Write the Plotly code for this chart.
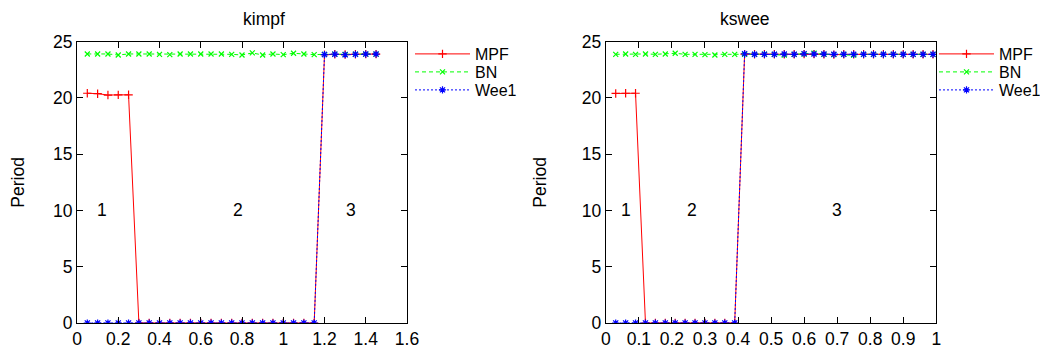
"""
kimpf / kswee の周期プロット (gnuplot風)
"""

import plotly.graph_objects as go
from plotly.subplots import make_subplots

# kimpf パネル
x_kimpf = [0.05, 0.10, 0.15, 0.20, 0.25, 0.30, 0.35, 0.40, 0.45, 0.50,
           0.55, 0.60, 0.65, 0.70, 0.75, 0.80, 0.85, 0.90, 0.95, 1.00,
           1.05, 1.10, 1.15, 1.20, 1.25, 1.30, 1.35, 1.40, 1.45]
mpf_kimpf = [20.42, 20.38, 20.26, 20.27, 20.28, 0, 0, 0, 0, 0,
             0, 0, 0, 0, 0, 0, 0, 0, 0, 0,
             0, 0, 0, 23.85, 23.88, 23.86, 23.88, 23.9, 23.9]
bn_kimpf = [23.91, 23.91, 23.91, 23.82, 23.91, 23.91, 23.91, 23.88, 23.85, 23.91,
            23.91, 23.91, 23.91, 23.91, 23.88, 23.82, 24.0, 23.82, 23.91, 23.85,
            23.97, 23.91, 23.85, 23.88, 23.9, 23.88, 23.9, 23.9, 23.9]
wee1_kimpf = [0, 0, 0, 0, 0, 0, 0, 0, 0, 0,
              0, 0, 0, 0, 0, 0, 0, 0, 0, 0,
              0, 0, 0, 23.86, 23.89, 23.84, 23.88, 23.9, 23.9]

# kswee パネル
x_kswee = [0.03, 0.06, 0.09, 0.12, 0.15, 0.18, 0.21, 0.24, 0.27, 0.30, 0.33,
           0.36, 0.39, 0.42, 0.45, 0.48, 0.51, 0.54, 0.57, 0.60, 0.63, 0.66,
           0.69, 0.72, 0.75, 0.78, 0.81, 0.84, 0.87, 0.90, 0.93, 0.96, 0.99]
mpf_kswee = [20.4, 20.42, 20.42, 0, 0, 0, 0, 0, 0, 0, 0,
             0, 0, 23.9, 23.88, 23.88, 23.88, 23.88, 23.88, 23.9, 23.9, 23.88,
             23.85, 23.88, 23.88, 23.88, 23.88, 23.88, 23.88, 23.88, 23.88, 23.88, 23.88]
bn_kswee = [23.88, 23.91, 23.88, 23.91, 23.88, 23.91, 23.97, 23.88, 23.88, 23.85, 23.82,
            23.88, 23.88, 23.88, 23.88, 23.9, 23.88, 23.8, 23.88, 23.9, 23.98, 23.88,
            23.85, 23.88, 23.8, 23.88, 23.88, 23.88, 23.88, 23.88, 23.88, 23.88, 23.88]
wee1_kswee = [0, 0, 0, 0, 0, 0, 0, 0, 0, 0, 0,
              0, 0, 23.93, 23.88, 23.88, 23.88, 23.9, 23.88, 23.93, 23.9, 23.9,
              23.88, 23.88, 23.88, 23.88, 23.88, 23.88, 23.88, 23.88, 23.88, 23.88, 23.88]

# 領域ラベル (x位置, y=10)
region_labels = ["1", "2", "3"]
region_x_kimpf = [0.12, 0.78, 1.33]
region_x_kswee = [0.06, 0.26, 0.70]

panel_titles = ["kimpf", "kswee"]
kimpf_ticks = [0, 0.2, 0.4, 0.6, 0.8, 1, 1.2, 1.4, 1.6]
kimpf_ticktext = ["0", "0.2", "0.4", "0.6", "0.8", "1", "1.2", "1.4", "1.6"]
kswee_ticks = [0, 0.1, 0.2, 0.3, 0.4, 0.5, 0.6, 0.7, 0.8, 0.9, 1]
kswee_ticktext = ["0", "0.1", "0.2", "0.3", "0.4", "0.5", "0.6", "0.7", "0.8", "0.9", "1"]
y_ticks = [0, 5, 10, 15, 20, 25]

# ページの body 余白 (8px) を差し引いた図のサイズ
PAGE_PAD = 8
W, H = 1048 - PAGE_PAD, 354 - PAGE_PAD
FONT = "Liberation Sans, Arial, sans-serif"
FS = 17.5


def fx(px):
    """画面上のx座標(px) → 図の比率"""
    return (px - PAGE_PAD) / W


def fy(px):
    """画面上のy座標(px) → 図の比率"""
    return 1 - (px - PAGE_PAD) / H


# スタイル (gnuplot の既定色)
styles = {
    "MPF": {"color": "#ff0000", "dash": "solid", "symbol": "cross-thin", "size": 6},
    "BN": {"color": "#00ff00", "dash": "4px,3px", "symbol": "x-thin", "size": 5},
    "Wee1": {"color": "#0000ff", "dash": "2px,2px", "symbol": "asterisk", "size": 6},
}
legend_rows = {"MPF": 54, "BN": 72, "Wee1": 90}

fig = make_subplots(rows=1, cols=2)

panels = [
    (1, 0, x_kimpf, {"MPF": mpf_kimpf, "BN": bn_kimpf, "Wee1": wee1_kimpf}),
    (2, 3, x_kswee, {"MPF": mpf_kswee, "BN": bn_kswee, "Wee1": wee1_kswee}),
]

for col, offset, xs, series in panels:
    for i, (name, ys) in enumerate(series.items()):
        st = styles[name]
        n = offset + i + 1
        fig.add_trace(
            go.Scatter(
                x=xs,
                y=ys,
                mode="lines+markers",
                name=name,
                legend="legend" if n == 1 else f"legend{n}",
                line={"color": st["color"], "width": 1, "dash": st["dash"]},
                marker={
                    "symbol": st["symbol"],
                    "size": st["size"],
                    "color": st["color"],
                    "line": {"color": st["color"], "width": 1.2},
                },
            ),
            row=1,
            col=col,
        )

# 軸の設定
axis_common = {
    "showline": True,
    "linecolor": "black",
    "linewidth": 1,
    "mirror": "ticks",
    "ticks": "inside",
    "ticklen": 6,
    "tickcolor": "black",
    "showgrid": False,
    "zeroline": False,
    "automargin": False,
    "tickfont": {"size": FS, "color": "black", "family": FONT},
}

x0_l, x1_l = fx(77), fx(407)
x0_r, x1_r = fx(605.8), fx(936.3)
y0, y1 = fy(323), fy(41.7)

fig.update_xaxes(axis_common)
fig.update_yaxes(axis_common)
fig.update_xaxes(domain=[x0_l, x1_l], range=[0, 1.6], tickvals=kimpf_ticks,
                 ticktext=kimpf_ticktext, row=1, col=1)
fig.update_xaxes(domain=[x0_r, x1_r], range=[0, 1], tickvals=kswee_ticks,
                 ticktext=kswee_ticktext, row=1, col=2)
for col in (1, 2):
    fig.update_yaxes(
        domain=[y0, y1],
        range=[0, 25],
        tickvals=y_ticks,
        title={"text": "Period", "font": {"size": FS, "family": FONT, "color": "black"},
               "standoff": 30},
        row=1,
        col=col,
    )

# 領域ラベルとタイトル
annotations = []
for xr, yr, xs in (("x", "y", region_x_kimpf), ("x2", "y2", region_x_kswee)):
    for label, xv in zip(region_labels, xs):
        annotations.append({
            "x": xv, "y": 10, "xref": xr, "yref": yr, "text": label,
            "showarrow": False, "font": {"size": FS, "family": FONT, "color": "black"},
        })
for title, (a, b) in zip(panel_titles, ((x0_l, x1_l), (x0_r, x1_r))):
    annotations.append({
        "x": (a + b) / 2, "y": 1, "xref": "paper", "yref": "paper",
        "text": title, "showarrow": False, "yanchor": "top", "borderpad": 0,
        "font": {"size": FS, "family": FONT, "color": "black"},
    })

legend_common = {
    "font": {"size": 16, "family": FONT, "color": "black"},
    "bgcolor": "rgba(0,0,0,0)",
    "borderwidth": 0,
    "yanchor": "middle",
    "xanchor": "left",
    "itemwidth": 55,
}

legends = {}
for offset, lx in ((0, 410), (3, 934)):
    for i, name in enumerate(styles):
        n = offset + i + 1
        key = "legend" if n == 1 else f"legend{n}"
        legends[key] = {**legend_common, "x": fx(lx), "y": fy(legend_rows[name])}

fig.update_layout(
    width=W,
    height=H,
    margin={"l": 0, "r": 0, "t": 0, "b": 0},
    plot_bgcolor="white",
    paper_bgcolor="white",
    font={"family": FONT, "color": "black", "size": FS},
    annotations=annotations,
    showlegend=True,
    **legends,
)

fig.write_html("out.html")
